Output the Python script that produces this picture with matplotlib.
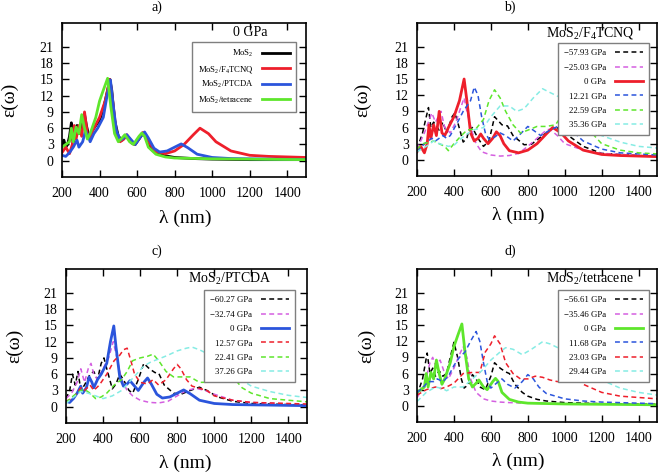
import matplotlib
matplotlib.use('Agg')
import matplotlib.pyplot as plt

plt.rcParams['font.family'] = 'Liberation Serif'
plt.rcParams['mathtext.fontset'] = 'custom'
plt.rcParams['mathtext.rm'] = 'Liberation Serif'
plt.rcParams['mathtext.it'] = 'Liberation Serif:italic'

# ---- panel a) 0 GPa ----
a_mos2_x = [200, 210, 220, 230, 240, 250, 255, 262, 270, 280, 290, 300, 310, 320, 330, 340, 350, 360, 380, 400, 420, 440, 455, 465, 480, 500, 520, 540, 555, 570, 590, 610, 630, 645, 660, 680, 700, 750, 800, 900, 1000, 1200, 1500]
a_mos2_y = [3.0, 3.8, 2.5, 3.0, 4.5, 7.0, 4.0, 3.5, 5.5, 6.5, 5.0, 5.5, 7.0, 8.5, 6.5, 5.0, 4.5, 5.5, 6.5, 7.5, 9.5, 12.5, 15.0, 13.0, 7.5, 4.5, 3.8, 4.5, 4.3, 3.3, 3.0, 4.0, 5.0, 4.5, 3.0, 2.0, 1.5, 0.9, 0.6, 0.4, 0.3, 0.2, 0.2]

f4_x = [200, 220, 240, 255, 265, 275, 290, 305, 320, 335, 350, 370, 400, 430, 455, 470, 490, 510, 530, 545, 560, 585, 610, 630, 650, 670, 700, 750, 800, 850, 900, 935, 980, 1020, 1100, 1200, 1300, 1500]
f4_y = [1.5, 2.5, 1.3, 3.0, 6.5, 4.0, 6.5, 4.5, 9.0, 5.0, 4.5, 6.0, 8.0, 11.0, 15.0, 11.0, 5.0, 3.5, 4.0, 4.8, 4.0, 3.0, 4.0, 5.2, 4.5, 3.0, 1.7, 1.3, 1.8, 3.0, 4.8, 6.0, 5.0, 3.5, 1.8, 1.0, 0.8, 0.6]

ptcda_x = [200, 220, 240, 260, 280, 290, 310, 325, 340, 350, 370, 390, 420, 440, 458, 470, 490, 510, 530, 545, 570, 590, 620, 640, 660, 690, 720, 760, 800, 835, 870, 920, 1000, 1100, 1300, 1500]
ptcda_y = [1.0, 0.8, 1.5, 2.5, 3.8, 2.5, 3.5, 5.5, 4.5, 3.5, 5.0, 6.0, 8.0, 12.0, 14.9, 11.0, 5.5, 3.8, 4.2, 4.8, 3.8, 3.0, 4.5, 5.3, 4.2, 2.3, 1.6, 1.8, 2.5, 3.1, 2.4, 1.2, 0.6, 0.4, 0.3, 0.2]

tetra_x = [200, 220, 240, 250, 260, 275, 290, 305, 320, 335, 350, 380, 400, 420, 443, 460, 480, 500, 520, 535, 560, 580, 610, 625, 640, 660, 700, 750, 800, 1000, 1500]
tetra_y = [2.5, 3.0, 3.5, 6.0, 3.5, 6.2, 5.0, 8.5, 6.0, 4.0, 5.0, 8.0, 11.0, 13.0, 15.2, 10.0, 5.0, 3.5, 4.2, 4.8, 3.5, 3.0, 4.5, 5.1, 4.5, 2.5, 1.2, 0.7, 0.5, 0.35, 0.2]

# ---- panel b) MoS2/F4TCNQ ----
b_m5793_x = [200, 230, 250, 262, 275, 290, 320, 340, 360, 390, 405, 420, 450, 470, 480, 500, 530, 560, 590, 620, 660, 690, 720, 780, 820, 880, 950, 1000, 1100, 1200, 1500]
b_m5793_y = [2.0, 5.0, 8.0, 9.7, 6.0, 7.0, 5.5, 7.0, 5.0, 8.0, 8.7, 7.0, 3.3, 4.0, 5.5, 6.0, 4.0, 2.5, 3.5, 8.0, 6.5, 6.3, 4.5, 2.8, 2.9, 4.5, 6.2, 5.0, 2.5, 1.2, 0.6]
b_m2503_x = [200, 240, 280, 300, 330, 350, 380, 410, 440, 455, 470, 500, 520, 550, 600, 650, 700, 750, 800, 850, 900, 920, 960, 1000, 1100, 1200, 1500]
b_m2503_y = [2.0, 5.0, 8.7, 7.0, 9.0, 6.0, 5.0, 7.0, 10.0, 11.5, 9.0, 5.0, 3.0, 1.5, 0.9, 0.7, 0.8, 1.2, 2.5, 4.0, 5.5, 5.7, 4.5, 3.0, 1.8, 1.2, 0.6]
b_p1221_x = [200, 240, 280, 300, 340, 360, 380, 420, 450, 470, 490, 510, 530, 550, 570, 590, 620, 650, 680, 720, 760, 800, 830, 870, 920, 980, 1020, 1100, 1200, 1300, 1500]
b_p1221_y = [1.5, 3.0, 4.0, 3.5, 4.5, 4.0, 4.5, 7.0, 9.0, 10.0, 11.0, 13.5, 12.0, 8.0, 5.0, 3.8, 4.2, 5.0, 4.5, 3.5, 4.8, 6.2, 5.5, 4.5, 5.5, 6.5, 6.0, 3.5, 2.0, 1.3, 0.9]
b_p2259_x = [200, 230, 260, 290, 320, 350, 370, 400, 440, 470, 520, 560, 590, 620, 650, 680, 720, 760, 800, 850, 900, 950, 1000, 1040, 1080, 1120, 1200, 1300, 1400, 1500]
b_p2259_y = [2.0, 3.0, 3.2, 3.5, 3.0, 2.5, 1.7, 3.0, 4.5, 5.5, 5.8, 7.5, 11.0, 13.0, 11.5, 9.0, 6.5, 5.0, 5.5, 6.2, 6.2, 6.5, 9.0, 10.8, 9.5, 6.0, 3.0, 1.8, 1.3, 1.1]
b_p3536_x = [200, 250, 290, 320, 370, 400, 440, 500, 560, 600, 650, 700, 740, 780, 830, 880, 920, 980, 1050, 1100, 1200, 1300, 1400, 1500]
b_p3536_y = [1.5, 2.5, 3.5, 3.0, 2.5, 2.7, 4.0, 5.5, 6.0, 8.0, 10.0, 10.0, 9.0, 9.5, 11.5, 13.2, 12.5, 11.5, 9.0, 7.0, 4.5, 3.3, 2.5, 2.2]

# ---- panel c) MoS2/PTCDA ----
c_m6027_x = [200, 220, 235, 250, 265, 280, 300, 330, 350, 370, 390, 405, 420, 450, 470, 490, 510, 540, 560, 590, 620, 650, 680, 700, 730, 780, 820, 870, 920, 960, 1020, 1100, 1200, 1500]
c_m6027_y = [1.5, 3.0, 6.0, 4.0, 6.5, 3.0, 4.0, 6.0, 6.5, 5.0, 8.0, 9.0, 7.0, 3.3, 4.2, 6.0, 5.0, 3.0, 2.5, 5.0, 8.0, 7.0, 6.3, 6.2, 4.0, 2.5, 2.3, 3.0, 3.6, 3.0, 1.8, 1.0, 0.6, 0.3]
c_m3274_x = [200, 230, 260, 280, 300, 320, 335, 350, 370, 400, 430, 455, 475, 500, 530, 560, 600, 650, 700, 750, 800, 850, 900, 950, 1000, 1100, 1200, 1500]
c_m3274_y = [1.5, 2.5, 4.5, 7.0, 4.5, 7.0, 8.0, 6.0, 5.0, 7.0, 9.0, 12.0, 9.0, 5.0, 3.0, 2.0, 1.2, 0.8, 0.7, 1.0, 2.0, 3.0, 3.4, 3.0, 2.3, 1.2, 0.8, 0.4]
c_p1257_x = [200, 230, 260, 280, 300, 330, 350, 380, 420, 460, 490, 510, 530, 550, 570, 600, 640, 670, 700, 740, 780, 800, 820, 850, 880, 920, 960, 1000, 1100, 1200, 1500]
c_p1257_y = [1.0, 1.5, 2.5, 3.5, 3.0, 4.0, 3.0, 4.0, 6.0, 8.5, 9.5, 10.5, 10.8, 8.5, 6.0, 4.5, 4.2, 5.0, 4.0, 5.0, 7.0, 7.8, 7.0, 5.0, 3.8, 3.4, 3.0, 2.0, 1.2, 0.8, 0.5]
c_p2241_x = [200, 240, 280, 300, 330, 360, 390, 420, 460, 500, 530, 560, 600, 640, 670, 700, 740, 780, 820, 870, 920, 970, 1000, 1050, 1070, 1100, 1150, 1200, 1300, 1500]
c_p2241_y = [0.8, 2.0, 3.0, 3.2, 2.5, 1.5, 1.8, 2.5, 4.0, 5.0, 6.5, 8.5, 9.0, 9.3, 9.7, 8.5, 6.5, 5.5, 5.5, 5.5, 4.5, 4.5, 5.0, 6.0, 6.3, 5.5, 3.5, 2.5, 1.5, 0.9]
c_p3726_x = [200, 250, 280, 320, 360, 400, 450, 500, 540, 580, 620, 660, 700, 750, 800, 850, 880, 920, 980, 1050, 1100, 1200, 1300, 1400, 1500]
c_p3726_y = [0.6, 2.0, 2.8, 2.5, 2.0, 1.5, 2.0, 3.0, 4.5, 6.0, 7.5, 8.3, 8.8, 9.5, 10.3, 10.8, 11.0, 10.5, 9.5, 7.5, 6.0, 3.8, 2.8, 2.1, 1.7]

# ---- panel d) MoS2/tetracene ----
d_m5661_x = [200, 230, 255, 270, 285, 300, 320, 340, 360, 380, 400, 420, 440, 455, 480, 500, 520, 540, 570, 600, 620, 650, 680, 700, 730, 770, 800, 850, 900, 1000, 1200, 1500]
d_m5661_y = [2.0, 5.0, 9.8, 6.0, 7.0, 5.5, 6.5, 5.5, 6.0, 9.0, 11.8, 9.0, 5.0, 3.3, 4.0, 5.8, 5.0, 3.5, 3.0, 5.5, 8.0, 7.0, 6.3, 6.0, 4.0, 2.5, 1.8, 1.2, 0.9, 0.6, 0.4, 0.3]
d_m3546_x = [200, 240, 270, 285, 300, 325, 345, 370, 400, 430, 450, 470, 490, 520, 560, 600, 650, 700, 800, 1000, 1500]
d_m3546_y = [1.5, 4.0, 8.0, 9.0, 7.5, 8.5, 6.5, 5.0, 7.0, 9.5, 11.0, 9.0, 5.0, 2.5, 1.3, 0.9, 0.7, 0.6, 0.5, 0.4, 0.3]
d_p1168_x = [200, 230, 260, 290, 310, 340, 370, 400, 430, 460, 490, 520, 540, 560, 580, 600, 630, 660, 690, 730, 770, 800, 830, 860, 900, 1000, 1100, 1200, 1500]
d_p1168_y = [2.5, 3.3, 4.5, 4.5, 5.0, 4.5, 5.5, 7.5, 9.0, 10.0, 12.0, 13.8, 12.0, 8.0, 4.5, 3.3, 4.2, 5.0, 4.0, 3.3, 4.5, 5.8, 5.0, 3.5, 2.3, 1.3, 0.9, 0.7, 0.4]
d_p2303_x = [200, 250, 300, 330, 360, 400, 450, 500, 540, 570, 600, 620, 650, 680, 720, 760, 800, 840, 880, 920, 960, 1000, 1030, 1060, 1100, 1200, 1300, 1500]
d_p2303_y = [2.0, 3.0, 3.5, 3.2, 3.5, 4.2, 6.0, 6.2, 6.2, 10.0, 11.5, 13.0, 11.5, 8.0, 6.0, 5.0, 5.0, 5.5, 5.3, 4.8, 4.5, 4.7, 5.5, 5.3, 4.0, 2.5, 1.8, 1.3]
d_p2944_x = [200, 250, 300, 340, 360, 400, 450, 500, 550, 600, 650, 680, 720, 770, 820, 880, 920, 980, 1050, 1100, 1200, 1300, 1400, 1500]
d_p2944_y = [0.8, 2.5, 3.5, 3.2, 2.8, 3.5, 3.5, 5.0, 6.5, 8.5, 10.0, 10.8, 10.5, 9.5, 10.5, 11.9, 11.5, 10.5, 8.5, 7.0, 4.8, 3.3, 2.5, 2.0]

BLACK = '#000000'
MAGENTA = '#d45fe0'
RED = '#ee1f2b'
BLUE = '#2b55dc'
GREEN = '#5ee62c'
CYAN = '#86ece4'

DASH = (0, (3.2, 2.2))


def panel(fig, rect, curves, heading, leg_anchor, leg_fs, heading_xy, spacing):
    ax = fig.add_axes(rect)
    for x, y, color, solid, label in curves:
        if solid:
            ax.plot(x, y, color=color, lw=2.0, label=label)
        else:
            ax.plot(x, y, color=color, lw=1.1, linestyle=DASH, label=label)
    ax.set_xlim(200, 1500)
    ax.set_ylim(-3.0, 25.4)
    ax.set_xticks(range(200, 1500, 200))
    ax.set_yticks(range(0, 22, 3))
    ax.tick_params(direction='in', top=True, right=True, length=5, width=1,
                   labelsize=10)
    ax.tick_params(axis='x', pad=7)
    ax.tick_params(axis='y', pad=6)
    for s in ax.spines.values():
        s.set_linewidth(1.2)
    leg = ax.legend(loc='upper right', bbox_to_anchor=leg_anchor,
                    bbox_transform=fig.transFigure, borderaxespad=0,
                    markerfirst=False, fancybox=False, fontsize=leg_fs,
                    handlelength=3.2, labelspacing=spacing, borderpad=0.7,
                    handletextpad=1.0, framealpha=1)
    leg.get_frame().set_edgecolor('#7f7f7f')
    leg.get_frame().set_linewidth(1.0)
    # heading sits on a baseline just above the legend box
    fig.text(heading_xy[0] / 661, 1 - heading_xy[1] / 473, heading,
             fontsize=10, ha='center', va='baseline')
    return ax


fig = plt.figure(figsize=(6.61, 4.73), dpi=100)

panel(fig, [0.0938, 0.6258, 0.3692, 0.3256],
      [(a_mos2_x, a_mos2_y, BLACK, True, 'MoS$_2$'),
       (f4_x, f4_y, RED, True, 'MoS$_2$/F$_4$TCNQ'),
       (ptcda_x, ptcda_y, BLUE, True, 'MoS$_2$/PTCDA'),
       (tetra_x, tetra_y, GREEN, True, 'MoS$_2$/tetracene')],
      '0 GPa', (296 / 661, 1 - 42 / 473), 6.2, (250, 36.5), 0.5)

panel(fig, [0.6309, 0.6279, 0.3631, 0.3235],
      [(b_m5793_x, b_m5793_y, BLACK, False, '\u221257.93 GPa'),
       (b_m2503_x, b_m2503_y, MAGENTA, False, '\u221225.03 GPa'),
       (f4_x, f4_y, RED, True, '0 GPa'),
       (b_p1221_x, b_p1221_y, BLUE, False, '12.21 GPa'),
       (b_p2259_x, b_p2259_y, GREEN, False, '22.59 GPa'),
       (b_p3536_x, b_p3536_y, CYAN, False, '35.36 GPa')],
      'MoS$_2$/F$_4$TCNQ', (649 / 661, 1 - 43 / 473), 6.3, (590, 36.5), 0.72)

panel(fig, [0.0998, 0.1057, 0.3646, 0.3256],
      [(c_m6027_x, c_m6027_y, BLACK, False, '\u221260.27 GPa'),
       (c_m3274_x, c_m3274_y, MAGENTA, False, '\u221232.74 GPa'),
       (ptcda_x, ptcda_y, BLUE, True, '0 GPa'),
       (c_p1257_x, c_p1257_y, RED, False, '12.57 GPa'),
       (c_p2241_x, c_p2241_y, GREEN, False, '22.41 GPa'),
       (c_p3726_x, c_p3726_y, CYAN, False, '37.26 GPa')],
      'MoS$_2$/PTCDA', (295 / 661, 1 - 290 / 473), 6.3, (230, 283), 0.72)

panel(fig, [0.6309, 0.1078, 0.3631, 0.3235],
      [(d_m5661_x, d_m5661_y, BLACK, False, '\u221256.61 GPa'),
       (d_m3546_x, d_m3546_y, MAGENTA, False, '\u221235.46 GPa'),
       (tetra_x, tetra_y, GREEN, True, '0 GPa'),
       (d_p1168_x, d_p1168_y, BLUE, False, '11.68 GPa'),
       (d_p2303_x, d_p2303_y, RED, False, '23.03 GPa'),
       (d_p2944_x, d_p2944_y, CYAN, False, '29.44 GPa')],
      'MoS$_2$/tetracene', (649 / 661, 1 - 290 / 473), 6.3, (590, 283), 0.72)

# panel letters and axis labels
for txt, x, y in [('a)', 157, 7), ('b)', 510, 7), ('c)', 157, 251), ('d)', 510, 251)]:
    fig.text(x / 661, 1 - y / 473, txt, fontsize=10, ha='center', va='center')
for x, y in [(10, 100), (363, 100), (15, 346), (367, 346)]:
    fig.text(x / 661, 1 - y / 473, '\u03b5(\u03c9)', fontsize=14, rotation=90,
             ha='center', va='center')
for x, y in [(185, 218), (518, 215), (185, 463), (518, 461)]:
    fig.text(x / 661, 1 - y / 473, '\u03bb (nm)', fontsize=14, ha='center', va='center')

fig.savefig('out.png', dpi=100)
